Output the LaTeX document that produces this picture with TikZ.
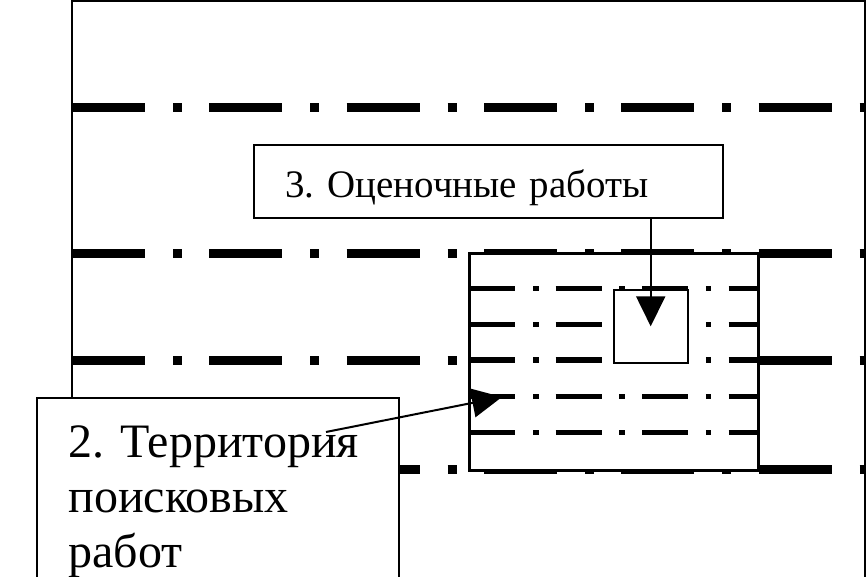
\documentclass[tikz,border=0pt]{standalone}
\usepackage{fontspec}
\setmainfont{Liberation Serif}[WordSpace=0.85]
\frenchspacing
\usetikzlibrary{arrows.meta}

\tikzset{every picture/.style={line width=0.75pt}}
\tikzset{
  zoneline/.style={line width=6.75pt, dash pattern=on 54.75pt off 21pt on 6.75pt off 20.5pt},
  plotline/.style={line width=4.05pt, dash pattern=on 34.5pt off 13.3pt on 4.2pt off 12.8pt},
  blockbox/.style={draw, line width=1.5pt, fill=white, inner sep=0pt, anchor=north west},
  pointer/.style={line width=1.5pt, -{Triangle[length=22.5pt,width=21.75pt]}}
}

\begin{document}
\begin{tikzpicture}[x=0.75pt,y=0.75pt,yscale=-1,xscale=1]
\useasboundingbox (0,0) rectangle (866,577);

%Shape: Rectangle (outer area)
\draw [line width=1.5pt] (72,1) rectangle (865,700) ;

%Straight Lines (zone boundaries)
\foreach \y in {108,253,360,469} {
  \draw [zoneline] (72,\y) -- (865,\y) ;
}

%Shape: Rectangle (search territory)
\node [blockbox, minimum width=216pt, minimum height=162pt] (area) at (469.3,253.3) {};
%Straight Lines (profile lines)
\foreach \y in {288.3,324.3,360,396.7,432.7} {
  \draw [plotline] (469.3,\y) -- (757.3,\y) ;
}
\draw [line width=1.5pt] (area.north west) rectangle (area.south east) ;

%Shape: Rectangle (evaluation site)
\node [blockbox, minimum width=55.5pt, minimum height=54.5pt] (site) at (612.7,289) {};

% Text Node
\node [blockbox, inner xsep=23.5pt, text width=304.75pt, align=left, text height=39.75pt, text depth=15pt,
  font=\fontsize{29.2pt}{34pt}\selectfont] (eval) at (253,144) {3. Оценочные работы};
% Text Node
\node [blockbox, inner xsep=23.5pt, text width=224.3pt, align=left, text height=44.25pt, text depth=120pt,
  font=\fontsize{36pt}{41.5pt}\selectfont] (search) at (36,397) {2.~Территория\\поисковых\\работ};

%Straight Lines (pointers)
\coordinate (from2) at (326,432);
\coordinate (to2) at (502,397);
\draw [pointer] (site.center |- eval.south) -- (site.center) ;
\draw [pointer] (from2) -- (to2) ;

\end{tikzpicture}
\end{document}
